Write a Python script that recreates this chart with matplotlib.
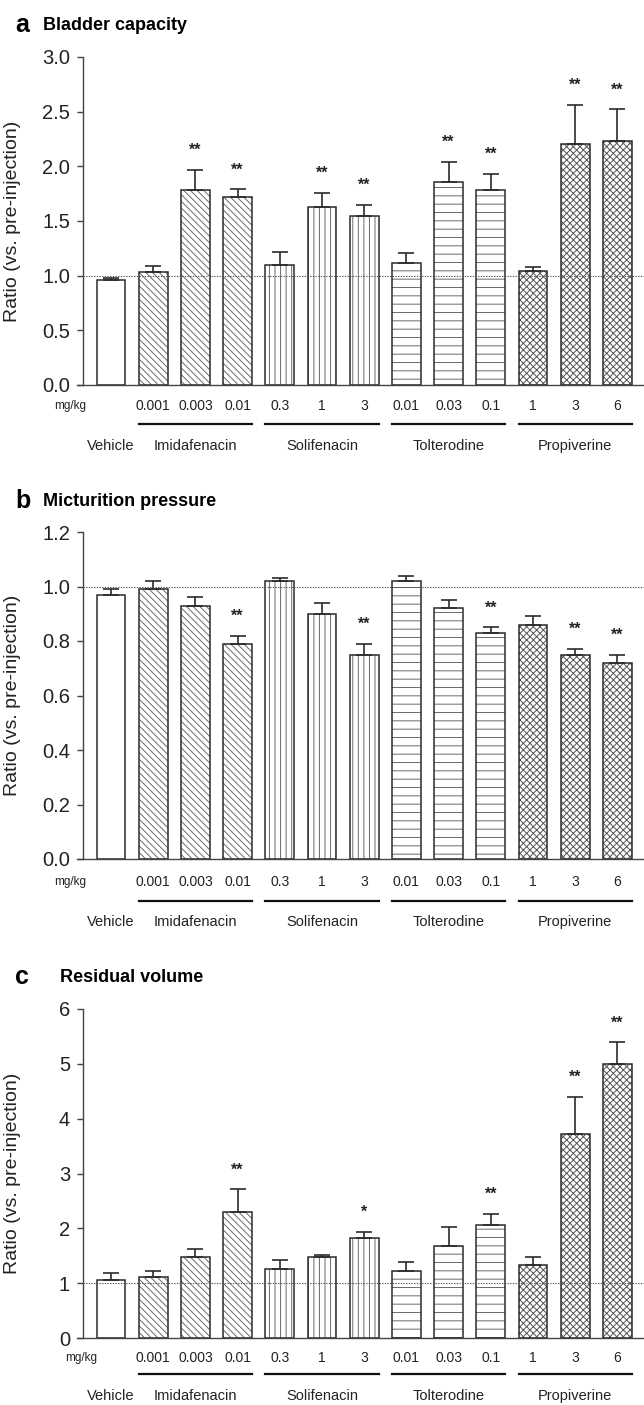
import matplotlib
matplotlib.use("Agg")
import matplotlib.pyplot as plt
from matplotlib.lines import Line2D
import numpy as np

plt.rcParams['font.family'] = ['Liberation Sans', 'DejaVu Sans']
plt.rcParams['hatch.linewidth'] = 0.7

# ---------------- data ----------------
bar_groups = ['Vehicle', 'Imidafenacin', 'Imidafenacin', 'Imidafenacin',
              'Solifenacin', 'Solifenacin', 'Solifenacin',
              'Tolterodine', 'Tolterodine', 'Tolterodine',
              'Propiverine', 'Propiverine', 'Propiverine']
dose_labels = ['', '0.001', '0.003', '0.01', '0.3', '1', '3',
               '0.01', '0.03', '0.1', '1', '3', '6']
group_names = ['Imidafenacin', 'Solifenacin', 'Tolterodine', 'Propiverine']

capacity_mean = [0.96, 1.03, 1.78, 1.72, 1.10, 1.63, 1.55, 1.12, 1.86, 1.78, 1.04, 2.20, 2.23]
capacity_err = [0.02, 0.06, 0.19, 0.07, 0.12, 0.13, 0.10, 0.09, 0.18, 0.15, 0.04, 0.36, 0.29]
capacity_sig = ['', '', '**', '**', '', '**', '**', '', '**', '**', '', '**', '**']

pressure_mean = [0.97, 0.99, 0.93, 0.79, 1.02, 0.90, 0.75, 1.02, 0.92, 0.83, 0.86, 0.75, 0.72]
pressure_err = [0.02, 0.03, 0.03, 0.03, 0.01, 0.04, 0.04, 0.02, 0.03, 0.02, 0.03, 0.02, 0.03]
pressure_sig = ['', '', '', '**', '', '', '**', '', '', '**', '', '**', '**']

residual_mean = [1.06, 1.11, 1.47, 2.29, 1.26, 1.48, 1.82, 1.22, 1.68, 2.06, 1.33, 3.72, 5.00]
residual_err = [0.13, 0.11, 0.15, 0.42, 0.16, 0.03, 0.12, 0.16, 0.35, 0.20, 0.14, 0.68, 0.39]
residual_sig = ['', '', '', '**', '', '', '*', '', '', '**', '', '**', '**']

capacity_ticks = [0.0, 0.5, 1.0, 1.5, 2.0, 2.5, 3.0]
pressure_ticks = [0.0, 0.2, 0.4, 0.6, 0.8, 1.0, 1.2]
residual_ticks = [0, 1, 2, 3, 4, 5, 6]

# ---------------- style ----------------
hatches = {'Vehicle': '', 'Imidafenacin': '\\\\\\\\\\', 'Solifenacin': '|||',
           'Tolterodine': '--', 'Propiverine': 'xxxxx'}
hatch_colors = {'Vehicle': '#6a6a6a', 'Imidafenacin': '#6a6a6a', 'Solifenacin': '#6a6a6a',
                'Tolterodine': '#6a6a6a', 'Propiverine': '#555555'}
EDGE = '#2b2b2b'
FIG_W, FIG_H = 644, 1405

fig = plt.figure(figsize=(FIG_W / 100, FIG_H / 100), dpi=100)

panels = [
    dict(letter='a', title='Bladder capacity', mean=capacity_mean, err=capacity_err,
         sig=capacity_sig, ticks=capacity_ticks, fmt='{:.1f}', top=57, bottom=385,
         title_y=25, title_x=43, offs=(21, 39, 61), mg_x=-0.97),
    dict(letter='b', title='Micturition pressure', mean=pressure_mean, err=pressure_err,
         sig=pressure_sig, ticks=pressure_ticks, fmt='{:.1f}', top=532, bottom=859,
         title_y=501, title_x=43, offs=(23, 42, 63), mg_x=-0.97),
    dict(letter='c', title='Residual volume', mean=residual_mean, err=residual_err,
         sig=residual_sig, ticks=residual_ticks, fmt='{:d}', top=1009, bottom=1338,
         title_y=977, title_x=60, offs=(20, 36, 58), mg_x=-0.7),
]

ax_left_px = 83
x = np.arange(len(bar_groups))
width = 0.68

for p in panels:
    h_px = p['bottom'] - p['top']
    ax = fig.add_axes([ax_left_px / FIG_W, 1 - p['bottom'] / FIG_H,
                       1 - ax_left_px / FIG_W, h_px / FIG_H])
    ax.set_xlim(-0.664, 12.63)
    ax.set_ylim(p['ticks'][0], p['ticks'][-1])

    # bars: hatched fill, then outline
    for i, g in enumerate(bar_groups):
        ax.bar(x[i], p['mean'][i], width, color='white', edgecolor=hatch_colors[g],
               hatch=hatches[g], linewidth=0, zorder=2)
    ax.bar(x, p['mean'], width, fill=False, edgecolor=EDGE, linewidth=1.1, zorder=3)
    ax.errorbar(x, p['mean'], yerr=[np.zeros(len(x)), p['err']], fmt='none',
                ecolor=EDGE, elinewidth=1.2, capsize=5.5, capthick=1.2, zorder=3)

    # reference line
    ax.axhline(1.0, color='#555555', linestyle=(0, (1.2, 1.2)), linewidth=0.8, zorder=4)

    # significance
    for i, s in enumerate(p['sig']):
        if s:
            ax.annotate(s, xy=(x[i], p['mean'][i] + p['err'][i]), xytext=(0, 14),
                        textcoords='offset points', ha='center', va='center',
                        fontsize=11.5, fontweight='bold', color='#222222')

    # axes styling
    for s in ['top', 'right', 'bottom']:
        ax.spines[s].set_visible(False)
    ax.spines['left'].set_color('#444444')
    ax.spines['left'].set_linewidth(1.0)
    ax.set_xticks([])
    ax.set_yticks(p['ticks'])
    ax.set_yticklabels([p['fmt'].format(t) for t in p['ticks']])
    ax.tick_params(axis='y', direction='out', length=4.3, width=1.0, color='#444444',
                   labelsize=14.5, pad=5, labelcolor='#222222')
    ax.add_line(Line2D([-6 / 561, 1.0], [0, 0], transform=ax.transAxes, color='#444444',
                       linewidth=1.0, clip_on=False, zorder=5))
    ax.set_ylabel('Ratio (vs. pre-injection)', fontsize=14, color='#222222')
    ax.yaxis.set_label_coords(-62 / 561, 0.5)

    # below-axis labels
    d_off, l_off, g_off = p['offs']
    for i, lab in enumerate(dose_labels):
        if lab:
            ax.text(x[i], -d_off / h_px, lab, transform=ax.get_xaxis_transform(),
                    ha='center', va='center', fontsize=10, color='#222222')
    ax.text(p['mg_x'], -d_off / h_px, 'mg/kg', transform=ax.get_xaxis_transform(),
            ha='center', va='center', fontsize=8.5, color='#222222')
    ax.text(0, -g_off / h_px, 'Vehicle', transform=ax.get_xaxis_transform(),
            ha='center', va='center', fontsize=10.5, color='#222222')
    for gname in group_names:
        idx = [i for i, g in enumerate(bar_groups) if g == gname]
        x0 = x[idx[0]] - width / 2
        x1 = x[idx[-1]] + width / 2
        ax.add_line(Line2D([x0, x1], [-l_off / h_px] * 2, transform=ax.get_xaxis_transform(),
                           color='#111111', linewidth=1.6, clip_on=False))
        ax.text((x0 + x1) / 2, -g_off / h_px, gname, transform=ax.get_xaxis_transform(),
                ha='center', va='center', fontsize=10.5, color='#222222')

    # panel titles
    fig.text(15 / FIG_W, 1 - p['title_y'] / FIG_H, p['letter'], fontsize=18,
             fontweight='bold', ha='left', va='center')
    fig.text(p['title_x'] / FIG_W, 1 - p['title_y'] / FIG_H, p['title'], fontsize=13,
             fontweight='bold', ha='left', va='center')

fig.savefig('out.png', dpi=100)
